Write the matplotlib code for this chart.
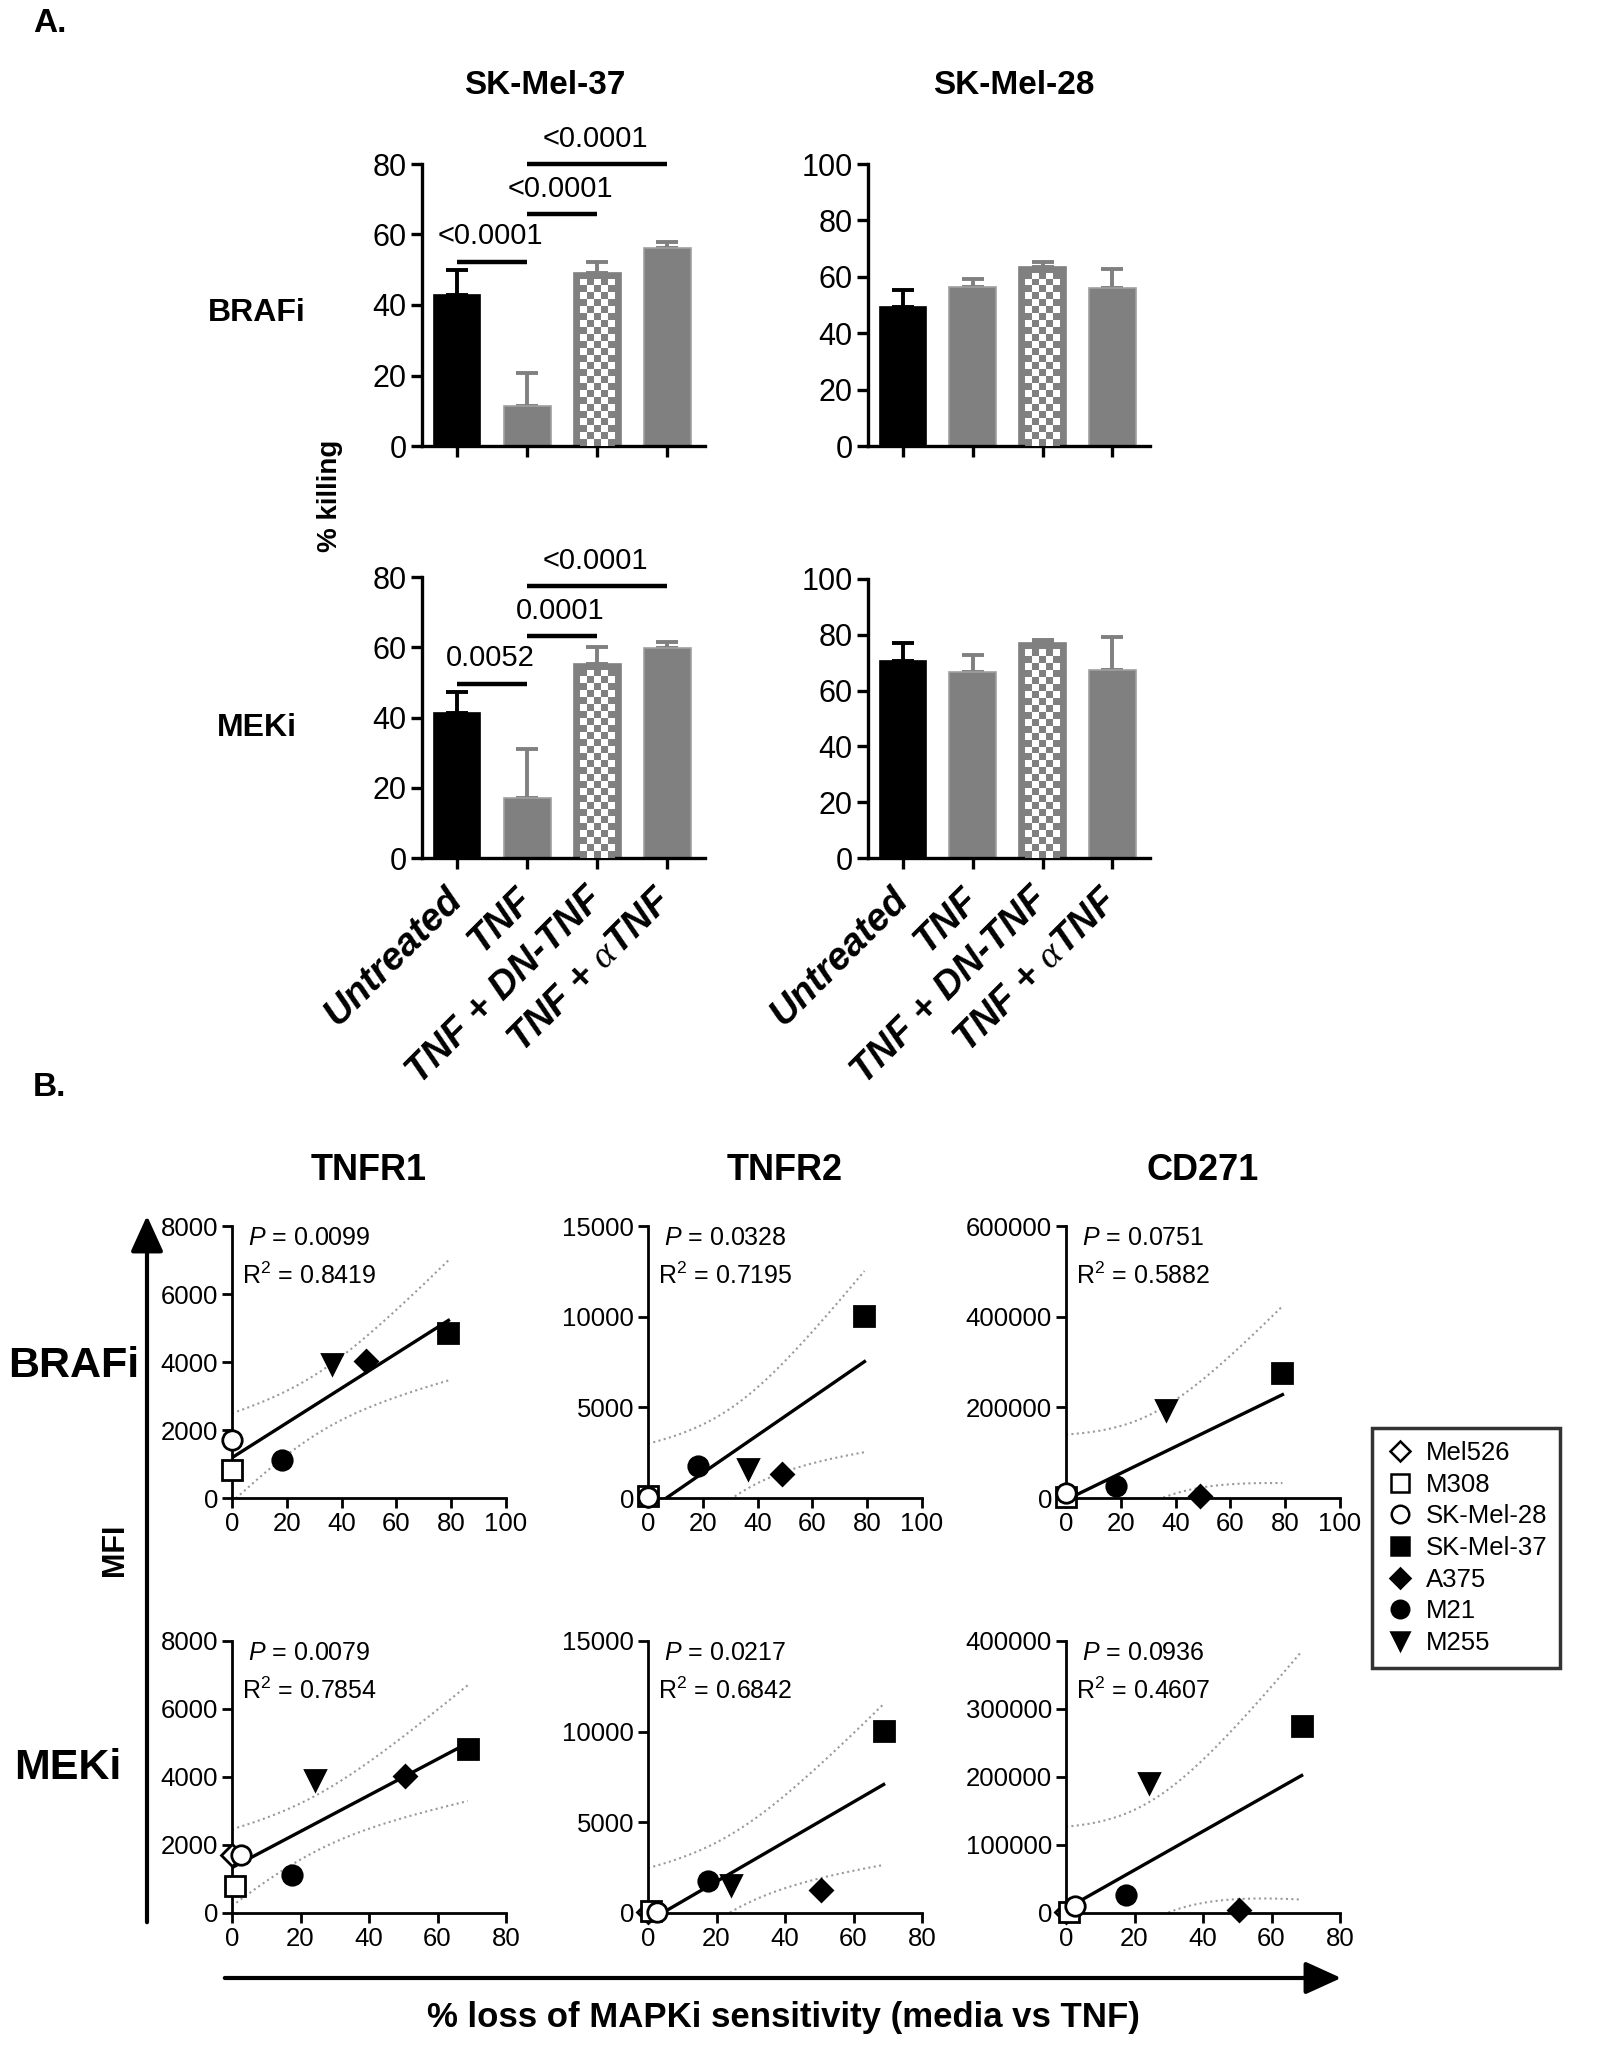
import numpy as np
import matplotlib.pyplot as plt
from matplotlib.colors import ListedColormap
from matplotlib.patches import Rectangle, FancyArrowPatch
from matplotlib.lines import Line2D

plt.rcParams['font.family'] = ['Liberation Sans', 'DejaVu Sans']
plt.rcParams['mathtext.fontset'] = 'custom'
plt.rcParams['mathtext.rm'] = 'Liberation Sans'
plt.rcParams['mathtext.it'] = 'Liberation Sans:italic'
plt.rcParams['mathtext.bf'] = 'Liberation Sans:bold'
plt.rcParams['mathtext.cal'] = 'Liberation Serif:italic'

# ---------------- panel A data (% killing, mean and upper SD)
treatments = ['Untreated', 'TNF', 'TNF + DN-TNF', r'TNF + $\mathcal{\alpha}$TNF']
mel37_brafi = [42.7, 11.4, 49.2, 56.1]
mel37_brafi_err = [7.3, 9.2, 3.1, 1.9]
mel28_brafi = [49.2, 56.3, 63.6, 55.9]
mel28_brafi_err = [6.1, 2.8, 1.6, 6.8]
mel37_meki = [41.3, 17.2, 55.1, 59.8]
mel37_meki_err = [6.1, 13.9, 4.9, 1.7]
mel28_meki = [70.6, 66.7, 76.9, 67.3]
mel28_meki_err = [6.6, 6.0, 1.2, 12.0]

# comparisons: (from bar, to bar, p value)
sig_brafi = [(0, 1, '<0.0001'), (1, 2, '<0.0001'), (1, 3, '<0.0001')]
sig_meki = [(0, 1, '0.0052'), (1, 2, '0.0001'), (1, 3, '<0.0001')]

# ---------------- panel B data
cell_lines = ['Mel526', 'M308', 'SK-Mel-28', 'SK-Mel-37', 'A375', 'M21', 'M255']
nan = np.nan
brafi_loss = [nan, 0, 0, 79, 49, 18.3, 36.5]
meki_loss = [0, 1, 2.5, 68.8, 50.5, 17.5, 24.3]
tnfr1_brafi = [nan, 830, 1710, 4840, 4030, 1120, 3930]
tnfr2_brafi = [nan, 120, 50, 10010, 1300, 1740, 1610]
cd271_brafi = [nan, 2000, 11000, 276000, 4000, 25800, 193600]
tnfr1_meki = [1700, 800, 1710, 4830, 4020, 1120, 3920]
tnfr2_meki = [80, 120, 50, 10020, 1280, 1740, 1560]
cd271_meki = [2000, 1000, 10800, 275600, 4900, 26900, 191000]
p_vals = ['0.0099', '0.0328', '0.0751', '0.0079', '0.0217', '0.0936']
r2_vals = ['0.8419', '0.7195', '0.5882', '0.7854', '0.6842', '0.4607']

mk = ['D', 's', 'o', 's', 'D', 'o', 'v']
mk_size = [11, 14, 14, 14, 11, 14, 14]
mk_fill = ['white', 'white', 'white', 'black', 'black', 'black', 'black']

W, H = 1598, 2045
fig = plt.figure(figsize=(W / 100, H / 100), dpi=100)


def place(l, t, r, b):
    return fig.add_axes([l / W, 1 - b / H, (r - l) / W, (b - t) / H])


def ftext(x, y, s, **kw):
    fig.text(x / W, 1 - y / H, s, **kw)


def bar_panel(ax, vals, errs, ymax, sig=None, labels=False):
    x = np.arange(len(vals))
    face = ['black', '#808080', '#808080', '#808080']
    edge = ['black', '#a0a0a0', '#808080', '#a0a0a0']
    for i in x:
        ax.errorbar(i, vals[i], yerr=[[0], [errs[i]]], fmt='none', ecolor=face[i],
                    elinewidth=2.8, capsize=8, capthick=2.8, zorder=1)
    bars = ax.bar(x, vals, width=0.67, color=face, edgecolor=edge, linewidth=1.2, zorder=2)
    xl = (-0.5, 3.54)

    # checkerboard for DN-TNF bar
    b = bars[2]
    ppx = ax.bbox.width / (xl[1] - xl[0])
    ppy = ax.bbox.height / ymax
    pad = 6
    x0 = b.get_x() + pad / ppx
    x1 = b.get_x() + b.get_width() - pad / ppx
    top = b.get_height() - pad / ppy
    ncol = 5
    cell = (x1 - x0) * ppx / ncol
    nrow = int(np.ceil(top * ppy / cell))
    grid = np.indices((nrow, ncol)).sum(axis=0) % 2
    im = ax.imshow(grid, cmap=ListedColormap(['#808080', 'white']),
                   extent=(x0, x1, 0, nrow * cell / ppy), origin='lower',
                   aspect='auto', interpolation='nearest', zorder=3)
    im.set_clip_path(Rectangle((x0, 0), x1 - x0, top, transform=ax.transData))

    ax.set_xlim(*xl)
    ax.set_ylim(0, ymax)
    for s in ['top', 'right']:
        ax.spines[s].set_visible(False)
    for s in ['left', 'bottom']:
        ax.spines[s].set_linewidth(2.4)
    ax.tick_params(width=2.4, length=8, labelsize=22, pad=3)
    ax.set_yticks(np.arange(0, ymax + 1, 20))
    ax.set_xticks(x)
    if labels:
        ax.set_xticklabels(treatments, rotation=45, ha='right', va='center',
                           rotation_mode='anchor', fontsize=27.5, fontweight='bold',
                           fontstyle='italic')
        ax.tick_params(axis='x', pad=18)
    else:
        ax.set_xticklabels([])

    if sig:
        tops = [v + e for v, e in zip(vals, errs)]
        levels = [max(tops[0], tops[1]) + 2.2, 0, 0]
        levels[1] = levels[0] + 13.5
        levels[2] = levels[1] + 14.2
        for (a, c, txt), y in zip(sig, levels):
            ax.plot([a, c], [y, y], color='black', lw=3.2, solid_capstyle='butt', clip_on=False)
            ax.text((a + c) / 2 - 0.03, y + 5, txt, ha='center', va='baseline',
                    fontsize=21, clip_on=False)


# ---------------- panel A
ftext(33, 23, 'A.', fontsize=24, fontweight='bold', va='center')
ftext(545, 86, 'SK-Mel-37', fontsize=24, fontweight='bold', ha='center', va='center')
ftext(1014, 86, 'SK-Mel-28', fontsize=24, fontweight='bold', ha='center', va='center')
ftext(257, 313, 'BRAFi', fontsize=23, fontweight='bold', ha='center', va='center')
ftext(257, 728, 'MEKi', fontsize=23, fontweight='bold', ha='center', va='center')
ftext(330, 496, '% killing', fontsize=20, fontweight='bold', ha='center', va='center',
      rotation=90)

ax = place(422, 164, 705, 446)
bar_panel(ax, mel37_brafi, mel37_brafi_err, 80, sig_brafi)
ax = place(868, 164, 1150, 446)
bar_panel(ax, mel28_brafi, mel28_brafi_err, 100)
ax = place(422, 577, 705, 858)
bar_panel(ax, mel37_meki, mel37_meki_err, 80, sig_meki, labels=True)
ax = place(868, 579, 1150, 858)
bar_panel(ax, mel28_meki, mel28_meki_err, 100, labels=True)

# ---------------- panel B
t975 = {4: 2.776, 5: 2.571}


def scatter_panel(ax, xs, ys, xmax, ymax, ystep, p, r2):
    xs = np.array(xs, float)
    ys = np.array(ys, float)
    for i in range(len(cell_lines)):
        if np.isnan(xs[i]) or np.isnan(ys[i]):
            continue
        ax.plot(xs[i], ys[i], marker=mk[i], ms=mk_size[i], mfc=mk_fill[i], mec='black',
                mew=2, ls='none', clip_on=False, zorder=5)
    ok = ~np.isnan(xs) & ~np.isnan(ys)
    xv, yv = xs[ok], ys[ok]
    n = len(xv)
    slope, icpt = np.polyfit(xv, yv, 1)
    s = np.sqrt(np.sum((yv - (slope * xv + icpt)) ** 2) / (n - 2))
    sxx = np.sum((xv - xv.mean()) ** 2)
    xx = np.linspace(xv.min(), xv.max(), 200)
    fit = slope * xx + icpt
    half = t975[n - 2] * s * np.sqrt(1 / n + (xx - xv.mean()) ** 2 / sxx)
    ax.plot(xx, fit, color='black', lw=2.4, zorder=3)
    for band in (fit + half, fit - half):
        ax.plot(xx, band, color='#9a9a9a', lw=1.5, ls=(0, (1, 1.6)), zorder=2)

    ax.set_xlim(0, xmax)
    ax.set_ylim(0, ymax)
    ax.set_xticks(np.arange(0, xmax + 1, 20))
    ax.set_yticks(np.arange(0, ymax + 1, ystep))
    for sp in ['top', 'right']:
        ax.spines[sp].set_visible(False)
    for sp in ['left', 'bottom']:
        ax.spines[sp].set_linewidth(2)
    ax.tick_params(width=2, length=7, labelsize=18.5, pad=3)
    ax.text(0.058, 0.956, '$P$ = ' + p, transform=ax.transAxes, fontsize=18, va='center')
    ax.text(0.036, 0.816, 'R$^2$ = ' + r2, transform=ax.transAxes, fontsize=18, va='center')


ftext(33, 1087, 'B.', fontsize=24, fontweight='bold', va='center')
lefts = [232, 648, 1066]
for xc, name in zip(lefts, ['TNFR1', 'TNFR2', 'CD271']):
    ftext(xc + 137, 1171, name, fontsize=26, fontweight='bold', ha='center', va='center')
ftext(8, 1366, 'BRAFi', fontsize=31, fontweight='bold', va='center')
ftext(14, 1768, 'MEKi', fontsize=31, fontweight='bold', va='center')

brafi_sets = [(tnfr1_brafi, 8000, 2000), (tnfr2_brafi, 15000, 5000), (cd271_brafi, 600000, 200000)]
meki_sets = [(tnfr1_meki, 8000, 2000), (tnfr2_meki, 15000, 5000), (cd271_meki, 400000, 100000)]
for k, (l, (ys, ym, st)) in enumerate(zip(lefts, brafi_sets)):
    ax = place(l, 1226, l + 274, 1498)
    scatter_panel(ax, brafi_loss, ys, 100, ym, st, p_vals[k], r2_vals[k])
for k, (l, (ys, ym, st)) in enumerate(zip(lefts, meki_sets)):
    ax = place(l, 1641, l + 274, 1913)
    scatter_panel(ax, meki_loss, ys, 80, ym, st, p_vals[k + 3], r2_vals[k + 3])

# axis arrows and labels
fig.add_artist(FancyArrowPatch((147 / W, 1 - 1925 / H), (147 / W, 1 - 1213 / H),
                               transform=fig.transFigure, arrowstyle='-|>,head_length=1.1,head_width=0.5',
                               mutation_scale=20, lw=3, color='black'))
fig.add_artist(FancyArrowPatch((222 / W, 1 - 1978 / H), (1344 / W, 1 - 1978 / H),
                               transform=fig.transFigure, arrowstyle='-|>,head_length=1.1,head_width=0.5',
                               mutation_scale=20, lw=3, color='black'))
ftext(115, 1550, 'MFI', fontsize=22, fontweight='bold', ha='center', va='center', rotation=90)
ftext(783, 2018, '% loss of MAPKi sensitivity (media vs TNF)', fontsize=25,
      fontweight='bold', ha='center', va='center')

handles = [Line2D([], [], marker=mk[i], ms=mk_size[i] * 0.9, mfc=mk_fill[i], mec='black',
                  mew=1.8, ls='none') for i in range(len(cell_lines))]
leg = fig.legend(handles, cell_lines, loc='upper left', bbox_to_anchor=(1372 / W, 1 - 1428 / H),
                 fontsize=18.5, frameon=True, fancybox=False, edgecolor='black', borderaxespad=0,
                 handletextpad=0.4, labelspacing=0.3, borderpad=0.5, handlelength=1.2)
leg.get_frame().set_linewidth(2.5)

fig.savefig('out.png', dpi=100)
